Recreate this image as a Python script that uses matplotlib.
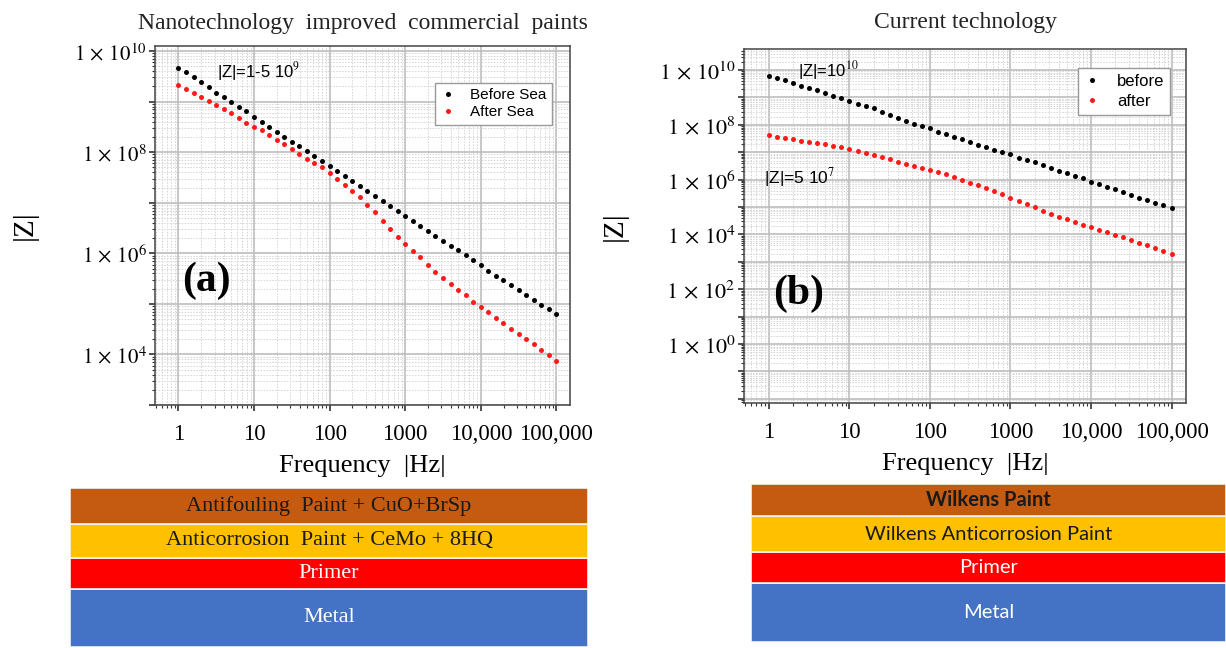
import numpy as np
import matplotlib.pyplot as plt
from matplotlib.ticker import LogLocator, FuncFormatter, NullFormatter, FixedLocator

plt.rcParams['mathtext.fontset'] = 'stix'

# 10 points per decade, 1 Hz .. 100 kHz
freq = np.logspace(0, 5, 51)

# log10 |Z|
before_a = [9.66, 9.58, 9.48, 9.38, 9.28, 9.18, 9.10, 9.00, 8.90, 8.81,
            8.70, 8.60, 8.50, 8.40, 8.30, 8.21, 8.12, 8.03, 7.92, 7.83,
            7.73, 7.63, 7.53, 7.43, 7.33, 7.23, 7.14, 7.04, 6.94, 6.84,
            6.74, 6.64, 6.54, 6.44, 6.34, 6.25, 6.15, 6.07, 5.97, 5.87,
            5.76, 5.66, 5.56, 5.47, 5.37, 5.27, 5.18, 5.08, 4.98, 4.89, 4.79]
after_a = [9.33, 9.25, 9.17, 9.10, 9.01, 8.93, 8.85, 8.77, 8.67, 8.58,
           8.50, 8.43, 8.33, 8.25, 8.16, 8.07, 7.97, 7.87, 7.79, 7.70,
           7.59, 7.47, 7.35, 7.23, 7.11, 6.95, 6.81, 6.64, 6.49, 6.33,
           6.19, 6.05, 5.92, 5.77, 5.63, 5.51, 5.39, 5.27, 5.17, 5.04,
           4.93, 4.83, 4.72, 4.62, 4.51, 4.41, 4.30, 4.20, 4.09, 3.99, 3.88]
before_b = [9.79, 9.72, 9.64, 9.54, 9.43, 9.35, 9.27, 9.15, 9.05, 8.97,
            8.88, 8.78, 8.69, 8.60, 8.48, 8.36, 8.25, 8.14, 8.05, 7.97,
            7.87, 7.75, 7.66, 7.57, 7.48, 7.38, 7.26, 7.18, 7.08, 7.00,
            6.93, 6.81, 6.72, 6.63, 6.53, 6.41, 6.32, 6.23, 6.14, 6.05,
            5.92, 5.84, 5.74, 5.65, 5.55, 5.45, 5.35, 5.25, 5.15, 5.06, 4.96]
after_b = [7.63, 7.57, 7.53, 7.47, 7.42, 7.39, 7.35, 7.29, 7.24, 7.18,
           7.12, 7.05, 6.98, 6.91, 6.84, 6.75, 6.65, 6.59, 6.51, 6.41,
           6.35, 6.27, 6.19, 6.11, 5.99, 5.89, 5.80, 5.68, 5.58, 5.47,
           5.35, 5.23, 5.11, 4.99, 4.86, 4.74, 4.65, 4.55, 4.44, 4.34,
           4.26, 4.16, 4.08, 3.99, 3.90, 3.80, 3.70, 3.60, 3.49, 3.38, 3.28]

freq_ticks = [1, 10, 100, 1000, 10000, 100000]
freq_labels = ['1', '10', '100', '1000', '10,000', '100,000']

layers_a = ['Antifouling  Paint + CuO+BrSp', 'Anticorrosion  Paint + CeMo + 8HQ', 'Primer', 'Metal']
layers_b = ['Wilkens Paint', 'Wilkens Anticorrosion Paint', 'Primer', 'Metal']
layer_colors = ['#C55A11', '#FFC000', '#FF0000', '#4472C4']
layer_text = ['#1a1a1a', '#1a1a1a', 'white', 'white']
thick_a = [35, 34, 30, 57]
thick_b = [32, 36, 30, 59]

SERIF = 'Liberation Serif'
SANS = 'Liberation Sans'


def ylab(v, pos):
    e = int(round(np.log10(v)))
    if e % 2 == 0 and e >= 0:
        return r'$1\,\times\,10^{%d}$' % e
    return ''


def setup(ax, ylim, lab_size):
    ax.set_xscale('log')
    ax.set_yscale('log')
    ax.set_xlim(10 ** -0.31, 10 ** 5.18)
    ax.set_ylim(*ylim)
    ax.xaxis.set_major_locator(FixedLocator(freq_ticks))
    ax.set_xticklabels(freq_labels, fontfamily=SERIF, fontsize=16.5)
    ax.xaxis.set_minor_locator(LogLocator(base=10, subs=np.arange(2, 10), numticks=20))
    ax.xaxis.set_minor_formatter(NullFormatter())
    ax.yaxis.set_major_locator(LogLocator(base=10, subs=[1.0], numticks=30))
    ax.yaxis.set_major_formatter(FuncFormatter(ylab))
    ax.yaxis.set_minor_locator(LogLocator(base=10, subs=np.arange(2, 10), numticks=30))
    ax.yaxis.set_minor_formatter(NullFormatter())
    ax.tick_params(axis='y', labelsize=lab_size, pad=2)
    ax.tick_params(axis='x', pad=10)
    ax.tick_params(which='major', direction='out', length=4, width=1.2, color='#333333')
    ax.tick_params(which='minor', direction='out', length=2.5, width=0.8, color='#333333')
    ax.grid(True, which='major', color='#bdbdbd', linewidth=1.2)
    ax.grid(True, which='minor', color='#d4d4d4', linewidth=0.7, linestyle=(0, (1.5, 1.5)))
    ax.set_axisbelow(True)
    for s in ax.spines.values():
        s.set_color('#444444')
        s.set_linewidth(1.1)
    ax.set_xlabel('Frequency  |Hz|', fontfamily=SERIF, fontsize=19, labelpad=7)


def layers(rect, names, thick, font, bold_first, size):
    ax = fig.add_axes(rect)
    bottoms = np.cumsum([0] + thick[::-1][:-1])
    for name, col, tc, t, b in zip(names[::-1], layer_colors[::-1], layer_text[::-1],
                                   thick[::-1], bottoms):
        ax.bar(0.5, t, width=1, bottom=b, color=col, edgecolor='#f4f4f4', linewidth=1.2)
        wt = 'bold' if (bold_first and name == names[0]) else 'normal'
        ax.text(0.5, b + t / 2, name, ha='center', va='center', color=tc,
                fontfamily=font, fontsize=size, fontweight=wt)
    ax.set_xlim(0, 1)
    ax.set_ylim(0, sum(thick))
    ax.axis('off')


def legend(ax, anchor, size, spacing):
    ax.legend(loc='upper right', bbox_to_anchor=anchor, markerscale=1.0,
              frameon=True, fancybox=False, edgecolor='#999999', framealpha=1,
              handlelength=1.0, handletextpad=1.0, borderpad=0.35, labelspacing=spacing,
              borderaxespad=0, prop={'family': SANS, 'size': size})


fig = plt.figure(figsize=(12.26, 6.48), dpi=100)

# panel (a)
ax1 = fig.add_axes([155 / 1226, 1 - 405 / 648, 415 / 1226, 359 / 648])
setup(ax1, (10 ** 3.0, 10 ** 10.1), 15)
ax1.plot(freq, 10 ** np.array(before_a), 'o', color='black', ms=3.6, mew=0, label='Before Sea')
ax1.plot(freq, 10 ** np.array(after_a), 'o', color='#ff1a1a', ms=3.6, mew=0, label='After Sea')
ax1.set_title('Nanotechnology  improved  commercial  paints', fontfamily=SERIF,
              fontsize=17, color='#222222', pad=12)
ax1.set_ylabel('|Z|', fontfamily=SERIF, fontsize=21, labelpad=26)
legend(ax1, (0.957, 0.897), 11, 0.2)
ax1.text(0.149, 0.928, r'|Z|=1-5 10$^9$', transform=ax1.transAxes, fontsize=12,
         fontfamily=SANS, va='center')
ax1.text(0.065, 0.345, '(a)', transform=ax1.transAxes, fontsize=30, fontweight='bold',
         fontfamily=SERIF, va='center')

# panel (b)
ax2 = fig.add_axes([744 / 1226, 1 - 403 / 648, 442 / 1226, 354 / 648])
setup(ax2, (10 ** -2.15, 10 ** 10.77), 16)
ax2.plot(freq, 10 ** np.array(before_b), 'o', color='black', ms=3.6, mew=0, label='before')
ax2.plot(freq, 10 ** np.array(after_b), 'o', color='#ff1a1a', ms=3.6, mew=0, label='after')
ax2.set_title('Current technology', fontfamily=SERIF, fontsize=17, color='#222222', pad=15)
ax2.set_ylabel('|Z|', fontfamily=SERIF, fontsize=21, labelpad=22)
legend(ax2, (0.964, 0.946), 12, 0.3)
ax2.text(0.122, 0.94, r'|Z|=10$^{10}$', transform=ax2.transAxes, fontsize=12,
         fontfamily=SANS, va='center')
ax2.text(0.045, 0.638, r'|Z|=5 10$^7$', transform=ax2.transAxes, fontsize=12.5,
         fontfamily=SANS, va='center')
ax2.text(0.066, 0.308, '(b)', transform=ax2.transAxes, fontsize=30, fontweight='bold',
         fontfamily=SERIF, va='center')

# layer stacks
layers([70 / 1226, 1 - 647 / 648, 518 / 1226, 159 / 648], layers_a, thick_a, SERIF, False, 16)
layers([751 / 1226, 1 - 642 / 648, 475 / 1226, 158 / 648], layers_b, thick_b, 'Lato', True, 14.5)

fig.savefig('out.png', dpi=100)
